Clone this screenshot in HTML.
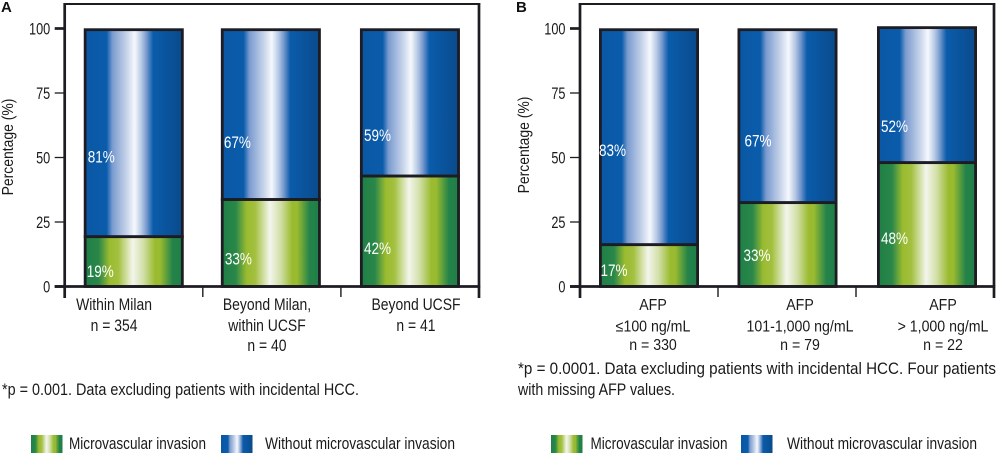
<!DOCTYPE html>
<html lang="en">
<head>
<meta charset="utf-8">
<title>Microvascular invasion by Milan/UCSF criteria and AFP</title>
<style>
html,body{margin:0;padding:0;background:#fff;width:997px;height:454px;overflow:hidden}
svg{display:block}
text{font-family:"Liberation Sans",sans-serif;fill:#1a1a1a}
</style>
</head>
<body>
<svg id="chart" xmlns="http://www.w3.org/2000/svg" width="997" height="454" viewBox="0 0 997 454">
<defs>
<linearGradient id="greenGrad" x1="0" x2="1" y1="0" y2="0">
<stop offset="0" stop-color="#1f7f46"/><stop offset="0.14" stop-color="#2a874a"/><stop offset="0.25" stop-color="#9abb2f"/><stop offset="0.34" stop-color="#a3c03f"/><stop offset="0.49" stop-color="#f3f5ec"/><stop offset="0.6" stop-color="#d2dfa8"/><stop offset="0.72" stop-color="#9abb2f"/><stop offset="0.77" stop-color="#9abb2f"/><stop offset="0.9" stop-color="#23834a"/><stop offset="1" stop-color="#1f7f46"/>
</linearGradient>
<linearGradient id="blueGrad" x1="0" x2="1" y1="0" y2="0">
<stop offset="0" stop-color="#0a58a6"/><stop offset="0.22" stop-color="#0a5cab"/><stop offset="0.28" stop-color="#7a9bcf"/><stop offset="0.43" stop-color="#c8d5ea"/><stop offset="0.51" stop-color="#f6f8fd"/><stop offset="0.58" stop-color="#b5c8e4"/><stop offset="0.63" stop-color="#7a9bcf"/><stop offset="0.7" stop-color="#0a5cab"/><stop offset="1" stop-color="#0a4a8c"/>
</linearGradient>
</defs>
</svg>
<script>
const yTicks = [0, 25, 50, 75, 100];
const categoriesA = [["Within Milan", "n = 354"], ["Beyond Milan,", "within UCSF", "n = 40"], ["Beyond UCSF", "n = 41"]];
const categoriesB = [["AFP", "\u2264100 ng/mL", "n = 330"], ["AFP", "101-1,000 ng/mL", "n = 79"], ["AFP", "> 1,000 ng/mL", "n = 22"]];
const microvascularA = [19.3, 33.7, 42.8];
const withoutA = [80.7, 66.3, 57.2];
const microvascularB = [16.2, 32.5, 48];
const withoutB = [83.8, 67.5, 52.8];
const printedMicroA = ["19%", "33%", "42%"];
const printedWithoutA = ["81%", "67%", "59%"];
const printedMicroB = ["17%", "33%", "48%"];
const printedWithoutB = ["83%", "67%", "52%"];
const legendLabels = ["Microvascular invasion", "Without microvascular invasion"];

const svg = document.getElementById('chart');
const NS = 'http://www.w3.org/2000/svg';
const INK = '#1c1c22';
const Y0 = 286.5, Y100 = 28.5;
const yScale = v => Y0 - (Y0 - Y100) * v / 100;

function line(name, x1, y1, x2, y2, w) {
  const el = document.createElementNS(NS, 'line');
  
  
  el.setAttribute('x1', x1); el.setAttribute('y1', y1);
  el.setAttribute('x2', x2); el.setAttribute('y2', y2);
  el.setAttribute('stroke', INK); el.setAttribute('stroke-width', w);
  svg.appendChild(el);
  return el;
}
function rect(name, x, y, w, h, fill, stroke) {
  const el = document.createElementNS(NS, 'rect');
  
  
  el.setAttribute('x', x); el.setAttribute('y', y);
  el.setAttribute('width', w); el.setAttribute('height', Math.max(0, h));
  el.setAttribute('fill', fill);
  if (stroke) { el.setAttribute('stroke', INK); el.setAttribute('stroke-width', stroke); }
  svg.appendChild(el);
  return el;
}
function text(name, str, x, y, size, sx, anchor, color, weight) {
  const el = document.createElementNS(NS, 'text');
  
  
  el.setAttribute('transform', 'translate(' + x + ',' + y + ') scale(' + sx + ',1)');
  el.setAttribute('font-size', size);
  el.setAttribute('text-anchor', anchor || 'start');
  if (color) el.style.fill = color;
  if (weight) el.setAttribute('font-weight', weight);
  el.textContent = str;
  svg.appendChild(el);
  return el;
}
function fit(name, str, x, y, size, width) {
  const el = document.createElementNS(NS, 'text');
  
  
  el.setAttribute('x', x); el.setAttribute('y', y);
  el.setAttribute('font-size', size);
  el.setAttribute('textLength', width);
  el.setAttribute('lengthAdjust', 'spacingAndGlyphs');
  el.textContent = str;
  svg.appendChild(el);
  return el;
}

function drawPanel(p) {
  const band = (p.right - p.left) / 3;
  const xBand = i => p.left + band * i;
  // frame
  line(p.id + '-frame-top', p.left - 1.2, 4, p.right + 1.2, 4, 2);
  line(p.id + '-y-axis', p.left, 3, p.left, 298, 2.7);
  line(p.id + '-frame-right', p.right, 3, p.right, 298, 2.7);
  // y ticks
  yTicks.forEach(t => {
    const major = t === 0 || t === 100;
    line(p.id + '-y-tick-' + t, p.left - 10, yScale(t), p.left, yScale(t), major ? 2.7 : 1.3);
    text(p.id + '-y-label-' + t, String(t), p.left - 14.5, yScale(t) + 6, 16.5, 0.77, 'end');
  });
  // bars
  p.micro.forEach((m, i) => {
    const x = xBand(i) + band / 2 - 50 + p.barShift[i] + 1.4;
    const w = 97.2;
    const top = m + p.without[i];
    rect(p.id + '-bar-without-' + i, x, yScale(top) + 1.2, w, yScale(m) - yScale(top) - 1.2, 'url(#blueGrad)', 2.8);
    rect(p.id + '-bar-micro-' + i, x, yScale(m), w, Y0 - yScale(m), 'url(#greenGrad)', 2.8);
    text(p.id + '-value-without-' + i, p.printedWithout[i], x - 1.4 + p.blueDx[i], (yScale(top) + yScale(m)) / 2 + p.blueDy[i] + 5.5, 16.5, 0.82, 'start', '#fff');
    text(p.id + '-value-micro-' + i, p.printedMicro[i], x - 1.4 + p.greenDx[i], (yScale(m) + Y0) / 2 + p.greenDy[i] + 5.5, 16.5, 0.82, 'start', '#fff');
  });
  // baseline drawn over the bars' bottom edge
  line(p.id + '-x-axis', p.left - 10, Y0, p.right + 1.2, Y0, 2.7);
  [1, 2].forEach(i => line(p.id + '-x-divider-' + i, xBand(i), Y0, xBand(i), 297, 1.4));
  // category labels
  p.categories.forEach((lines, i) => {
    lines.forEach((s, j) => {
      const row = lines.length === 2 ? [310, 331] : p.rows;
      text(p.id + '-category-' + i + '-line-' + j, s, p.catX[i], row[j], p.catSize, p.catScale, 'middle');
    });
  });
  // y axis title
  const title = document.createElementNS(NS, 'text');
  
  
  title.setAttribute('transform', 'translate(' + p.titleX + ',' + p.titleY + ') rotate(-90) scale(0.9,1)');
  title.setAttribute('font-size', 15.5);
  title.setAttribute('text-anchor', 'middle');
  title.textContent = 'Percentage (%)';
  svg.appendChild(title);
  // legend
  rect(p.id + '-legend-swatch-micro', p.legend[0], 435, 31.5, 18, 'url(#greenGrad)');
  fit(p.id + '-legend-label-micro', legendLabels[0], p.legend[1], 449, 16.5, 137);
  rect(p.id + '-legend-swatch-without', p.legend[2], 435, 31.5, 18, 'url(#blueGrad)');
  fit(p.id + '-legend-label-without', legendLabels[1], p.legend[3], 449, 16.5, 190);
  text(p.id + '-panel-letter', p.letter, p.letterX, 12, 15, 1, 'start', '#111', 'bold');
}

drawPanel({
  id: 'panel-a', letter: 'A', letterX: 1, left: 64.7, right: 479, titleX: 13, titleY: 147,
  categories: categoriesA, micro: microvascularA, without: withoutA,
  printedMicro: printedMicroA, printedWithout: printedWithoutA,
  barShift: [0, -1, 0], blueDx: [4, 3, 4], greenDx: [3, 4, 4],
  blueDy: [24.5, 28.5, 33], greenDy: [10, 16, 17],
  catX: [114, 267, 416], catSize: 16.5, catScale: 0.845, rows: [310, 331, 351],
  legend: [31, 69, 221, 265]
});
drawPanel({
  id: 'panel-b', letter: 'B', letterX: 516, left: 580, right: 994, titleX: 529, titleY: 145,
  categories: categoriesB, micro: microvascularB, without: withoutB,
  printedMicro: printedMicroB, printedWithout: printedWithoutB,
  barShift: [0, 0.5, 2], blueDx: [0, 7, 4], greenDx: [1.5, 6, 4],
  blueDy: [14, 25.5, 32], greenDy: [5, 11, 14],
  catX: [653, 800, 943], catSize: 15.5, catScale: 0.914, rows: [310, 331.5, 350],
  legend: [551, 590.5, 741, 787]
});

fit('panel-a-footnote', '*p = 0.001. Data excluding patients with incidental HCC.', 2, 395, 16.5, 357);
fit('panel-b-footnote-line-1', '*p = 0.0001. Data excluding patients with incidental HCC. Four patients', 518, 374, 16.5, 478);
fit('panel-b-footnote-line-2', 'with missing AFP values.', 518, 395, 16.5, 157);
</script>
</body>
</html>
